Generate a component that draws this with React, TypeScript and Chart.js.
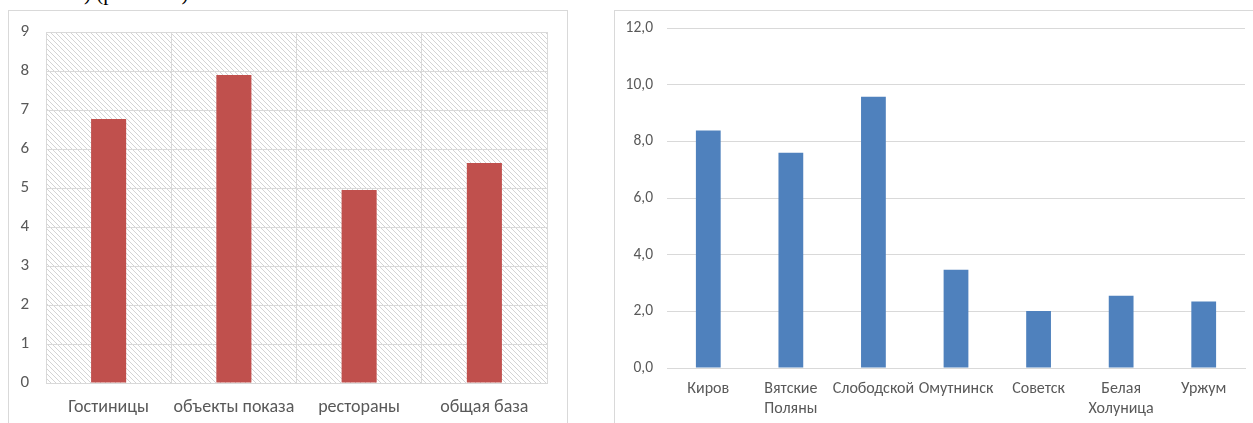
import React, { useEffect, useRef } from "react";
import { Chart, registerables } from "chart.js";

Chart.register(...registerables);

// Left chart: structure of the tourism base
const baseCategories = ["Гостиницы", "объекты показа", "рестораны", "общая база"];
const baseValues = [6.77, 7.9, 4.95, 5.64];
const baseTicks = [0, 1, 2, 3, 4, 5, 6, 7, 8, 9];

// Right chart: towns
const townLabels: (string | string[])[] = [
  "Киров",
  ["Вятские", "Поляны"],
  "Слободской",
  "Омутнинск",
  "Советск",
  ["Белая", "Холуница"],
  "Уржум",
];
const townValues = [8.38, 7.6, 9.57, 3.47, 2.01, 2.55, 2.35];
const townTicks = [0, 2, 4, 6, 8, 10, 12];

const FONT = "Carlito, Calibri, 'Liberation Sans Narrow', 'Open Sans', sans-serif";
const TEXT = "#595959";
const GRID = "#d9d9d9";

function makeHatch(ctx: CanvasRenderingContext2D): CanvasPattern | string {
  const s = 5;
  const tile = document.createElement("canvas");
  tile.width = s;
  tile.height = s;
  const t = tile.getContext("2d");
  if (!t) return "#fff";
  t.fillStyle = "#ffffff";
  t.fillRect(0, 0, s, s);
  t.strokeStyle = "#d4d4d4";
  t.lineWidth = 1;
  t.beginPath();
  t.moveTo(-1, -1);
  t.lineTo(s + 1, s + 1);
  t.moveTo(-1, s - 1);
  t.lineTo(1, s + 1);
  t.moveTo(s - 1, -1);
  t.lineTo(s + 1, 1);
  t.stroke();
  return ctx.createPattern(tile, "repeat") || "#fff";
}

// Diagonal hatching behind the plot area
const hatchPlugin = {
  id: "hatchArea",
  beforeDraw(chart: any) {
    const { ctx, chartArea } = chart;
    ctx.save();
    ctx.fillStyle = makeHatch(ctx);
    ctx.fillRect(chartArea.left, chartArea.top, chartArea.right - chartArea.left, chartArea.bottom - chartArea.top);
    ctx.restore();
  },
};

// Fixed axis size; the top/bottom label overhang is left to layout padding.
const fixedWidth = (w: number) => (s: any) => {
  s.width = w;
  s.paddingTop = 0;
  s.paddingBottom = 0;
};

function BaseChart() {
  const ref = useRef<HTMLCanvasElement>(null);
  useEffect(() => {
    if (!ref.current) return;
    const chart = new Chart(ref.current, {
      type: "bar",
      data: {
        labels: baseCategories,
        datasets: [
          {
            data: baseValues,
            backgroundColor: "#C0504D",
            barPercentage: 0.28,
            categoryPercentage: 1,
          },
        ],
      },
      options: {
        animation: false,
        responsive: false,
        layout: { padding: { top: 21, right: 21, left: 0, bottom: 0 } },
        plugins: { legend: { display: false }, tooltip: { enabled: false } },
        scales: {
          x: {
            grid: { color: GRID, offset: true, drawTicks: false },
            border: { color: GRID },
            ticks: { color: TEXT, font: { family: FONT, size: 18 }, padding: 14, maxRotation: 0, autoSkip: false },
            afterFit: (s: any) => {
              s.height = 40;
            },
          },
          y: {
            min: 0,
            max: 9,
            afterBuildTicks: (s: any) => {
              s.ticks = baseTicks.map((v) => ({ value: v }));
            },
            grid: { color: GRID, drawTicks: false },
            border: { color: GRID },
            ticks: { color: TEXT, font: { family: FONT, size: 17 }, padding: 17 },
            afterFit: fixedWidth(37),
          },
        },
      },
      plugins: [hatchPlugin],
    });
    return () => chart.destroy();
  }, []);
  return <canvas ref={ref} width={559} height={412} style={{ position: "absolute", left: 9, top: 11 }} />;
}

function TownChart() {
  const ref = useRef<HTMLCanvasElement>(null);
  useEffect(() => {
    if (!ref.current) return;
    const chart = new Chart(ref.current, {
      type: "bar",
      data: {
        labels: townLabels,
        datasets: [
          {
            data: townValues,
            backgroundColor: "#4F81BD",
            barPercentage: 0.3,
            categoryPercentage: 1,
          },
        ],
      },
      options: {
        animation: false,
        responsive: false,
        layout: { padding: { top: 17, right: 8, left: 0, bottom: 0 } },
        plugins: { legend: { display: false }, tooltip: { enabled: false } },
        scales: {
          x: {
            grid: { display: false },
            border: { color: GRID },
            ticks: {
              color: TEXT,
              font: { family: FONT, size: 16, lineHeight: 1.25 },
              padding: 3,
              maxRotation: 0,
              autoSkip: false,
            },
            afterFit: (s: any) => {
              s.height = 55;
            },
          },
          y: {
            min: 0,
            max: 12,
            afterBuildTicks: (s: any) => {
              s.ticks = townTicks.map((v) => ({ value: v }));
            },
            grid: { color: GRID, drawTicks: false },
            border: { display: false },
            ticks: {
              color: TEXT,
              font: { family: FONT, size: 15.5 },
              padding: 14,
              callback: (v: any) => Number(v).toFixed(1).replace(".", ","),
            },
            afterFit: fixedWidth(52),
          },
        },
      },
    });
    return () => chart.destroy();
  }, []);
  return <canvas ref={ref} width={638} height={412} style={{ position: "absolute", left: 615, top: 11 }} />;
}

export default function App() {
  return (
    <div style={{ position: "absolute", left: 0, top: 0, width: 1253, height: 423, overflow: "hidden", background: "#fff" }}>
      <div style={{ position: "absolute", left: 84, top: 0, height: 6, width: 200, overflow: "hidden" }}>
        <div style={{ position: "absolute", left: 0, top: -19, fontFamily: "'Liberation Serif', serif", fontSize: 21, lineHeight: "24px", whiteSpace: "nowrap", color: "#000" }}>
          ) (рис. 2.10)
        </div>
      </div>
      <div style={{ position: "absolute", left: 8, top: 10, width: 560, height: 430, border: `1px solid ${GRID}`, boxSizing: "border-box" }} />
      <div style={{ position: "absolute", left: 614, top: 10, width: 660, height: 430, border: `1px solid ${GRID}`, boxSizing: "border-box" }} />
      <BaseChart />
      <TownChart />
    </div>
  );
}
